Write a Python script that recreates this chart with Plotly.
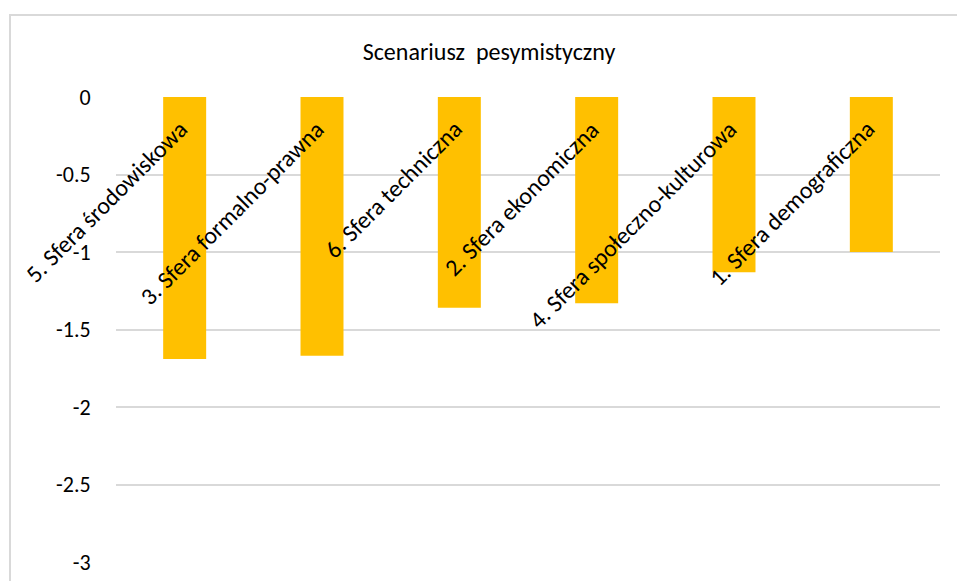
import plotly.graph_objects as go

categories = [
    "5. Sfera środowiskowa",
    "3. Sfera formalno-prawna",
    "6. Sfera techniczna",
    "2. Sfera ekonomiczna",
    "4. Sfera społeczno-kulturowa",
    "1. Sfera demograficzna",
]
values = [-1.69, -1.67, -1.36, -1.33, -1.13, -1.00]
y_ticks = [0, -0.5, -1, -1.5, -2, -2.5, -3]
y_tick_labels = ["0", "-0.5", "-1", "-1.5", "-2", "-2.5", "-3"]
title_text = "Scenariusz  pesymistyczny"

FONT = "Calibri, Carlito, Lato, sans-serif"
FS = 24
W, H = 957, 581
ML, MR, MT, MB = 116, 17, 97, 19

fig = go.Figure()
fig.add_trace(go.Bar(
    x=categories, y=values,
    marker=dict(color="#FFC000", line=dict(width=0)),
    width=0.313,
    hoverinfo="x+y",
))

annotations = []
for c in categories:
    annotations.append(dict(
        x=c, y=0, xref="x", yref="y",
        text=c, showarrow=False, textangle=-45,
        xanchor="right", yanchor="top",
        xshift=11, yshift=-15,
        font=dict(family=FONT, size=FS, color="#000000"),
    ))

pw = W - ML - MR
ph = H - MT - MB
fig.update_layout(
    width=W, height=H,
    margin=dict(l=ML, r=MR, t=MT, b=MB, autoexpand=False),
    paper_bgcolor="white", plot_bgcolor="white",
    showlegend=False,
    title=dict(text=title_text, x=489 / W, xref="container", xanchor="center",
               y=1 - 52 / H, yref="container", yanchor="middle",
               font=dict(family=FONT, size=FS, color="#000000")),
    annotations=annotations,
    xaxis=dict(range=[-0.5, len(categories) - 0.5], type="category",
               showticklabels=False, showgrid=False, zeroline=False, showline=False,
               ticks="", automargin=False),
    yaxis=dict(range=[-3, 0], tickvals=y_ticks, ticktext=y_tick_labels,
               showgrid=True, gridcolor="#D9D9D9", gridwidth=1.5,
               zeroline=False, showline=False, automargin=False,
               ticks="outside", ticklen=20, tickcolor="rgba(0,0,0,0)",
               tickfont=dict(family=FONT, size=22, color="#000000")),
    shapes=[dict(type="rect", xref="paper", yref="paper",
                 x0=(10 - ML) / pw, x1=(W + 20 - ML) / pw,
                 y0=-(MB + 20) / ph, y1=(H - 15 - MB) / ph,
                 line=dict(color="#D9D9D9", width=2), fillcolor="rgba(0,0,0,0)",
                 layer="below")],
)

fig.write_html("out.html", config={"displayModeBar": False},
               post_script="document.body.style.margin='0';")
